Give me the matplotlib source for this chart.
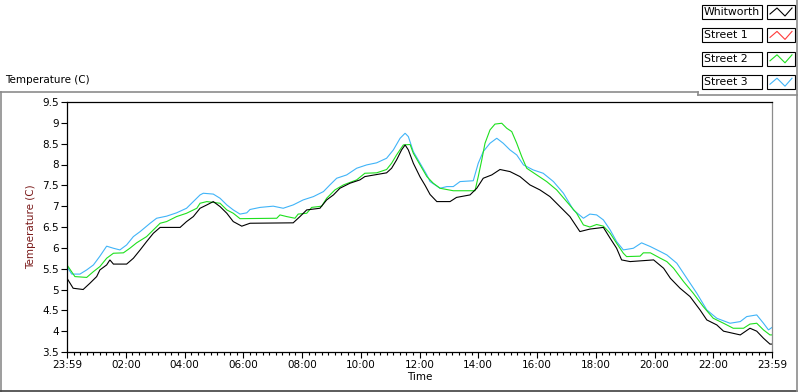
import matplotlib
matplotlib.use("Agg")
import matplotlib.pyplot as plt
from matplotlib.lines import Line2D
from matplotlib.patches import Rectangle
from matplotlib.ticker import FixedLocator, FormatStrFormatter

# hours since the start (23:59 of the previous day)
whit_t = [0, 0.21, 0.55, 0.78, 1.01, 1.12, 1.35, 1.46, 1.58, 2.03, 2.26, 2.49, 2.71, 2.94, 3.17,
          3.85, 4.07, 4.30, 4.53, 4.76, 4.98, 5.21, 5.44, 5.66, 5.95, 6.23, 7.70, 7.93, 8.16, 8.61,
          8.84, 9.07, 9.29, 9.63, 9.97, 10.14, 10.88, 11.05, 11.22, 11.39, 11.51, 11.62, 11.79, 12.02,
          12.19, 12.36, 12.59, 13.04, 13.26, 13.72, 13.95, 14.17, 14.46, 14.74, 15.08, 15.42, 15.76,
          16.10, 16.44, 16.78, 17.12, 17.46, 17.80, 18.26, 18.49, 18.71, 18.88, 19.17, 19.97, 20.31,
          20.54, 20.87, 21.21, 21.55, 21.78, 22.12, 22.35, 22.92, 23.25, 23.48, 23.71, 23.93, 24.0]
whit_temp = [5.27, 5.03, 5.00, 5.15, 5.31, 5.47, 5.59, 5.71, 5.61, 5.61, 5.75, 5.95, 6.15, 6.35, 6.49,
             6.49, 6.63, 6.75, 6.95, 7.03, 7.11, 6.99, 6.83, 6.63, 6.52, 6.59, 6.60, 6.75, 6.91, 6.95,
             7.15, 7.27, 7.43, 7.55, 7.63, 7.71, 7.80, 7.91, 8.11, 8.35, 8.47, 8.35, 8.03, 7.70,
             7.50, 7.28, 7.11, 7.11, 7.21, 7.27, 7.43, 7.67, 7.75, 7.88, 7.83, 7.71, 7.51,
             7.39, 7.23, 6.99, 6.75, 6.39, 6.45, 6.49, 6.23, 5.99, 5.71, 5.67, 5.71, 5.51,
             5.27, 5.03, 4.83, 4.51, 4.27, 4.15, 4.00, 3.91, 4.07, 4.00, 3.83, 3.69, 3.69]

street1_t = []
street1_temp = []

street2_t = [0, 0.27, 0.67, 0.90, 1.12, 1.35, 1.58, 1.92, 2.14, 2.37, 2.71, 2.94, 3.17, 3.39, 3.73,
             4.07, 4.42, 4.53, 4.76, 5.21, 5.44, 5.66, 5.89, 7.14, 7.25, 7.48, 7.76, 7.87, 8.16, 8.33,
             8.67, 8.84, 9.12, 9.41, 9.86, 10.14, 10.54, 10.88, 11.05, 11.22, 11.45, 11.68, 11.79,
             12.02, 12.25, 12.47, 12.70, 13.15, 13.89, 14.00, 14.12, 14.23, 14.40, 14.57, 14.80, 14.97,
             15.14, 15.31, 15.48, 15.65, 15.99, 16.33, 16.67, 17.01, 17.35, 17.58, 17.80, 18.03, 18.26,
             18.49, 18.71, 18.94, 19.05, 19.51, 19.62, 19.86, 20.20, 20.42, 20.65, 20.99, 21.32, 21.66,
             22.00, 22.35, 22.68, 23.03, 23.25, 23.48, 23.71, 23.93, 24.0]
street2_temp = [5.59, 5.31, 5.29, 5.43, 5.55, 5.75, 5.87, 5.88, 5.99, 6.12, 6.27, 6.43, 6.59, 6.63, 6.75,
                6.83, 6.95, 7.07, 7.11, 7.07, 6.91, 6.83, 6.70, 6.71, 6.79, 6.75, 6.71, 6.81, 6.83, 6.97,
                7.00, 7.19, 7.39, 7.51, 7.63, 7.79, 7.80, 7.88, 8.03, 8.23, 8.47, 8.48, 8.27,
                7.99, 7.71, 7.55, 7.43, 7.37, 7.37, 7.71, 8.11, 8.51, 8.83, 8.97, 8.99, 8.87,
                8.79, 8.51, 8.19, 7.91, 7.75, 7.59, 7.39, 7.11, 6.83, 6.55, 6.50, 6.56, 6.52,
                6.35, 6.11, 5.87, 5.79, 5.80, 5.88, 5.88, 5.75, 5.67, 5.51, 5.19, 4.91, 4.59,
                4.31, 4.19, 4.07, 4.07, 4.17, 4.19, 4.03, 3.91, 3.91]

street3_t = [0, 0.16, 0.44, 0.67, 0.90, 1.12, 1.35, 1.58, 1.80, 2.03, 2.26, 2.49, 2.83, 3.05, 3.39,
             3.73, 4.07, 4.30, 4.53, 4.64, 4.98, 5.21, 5.44, 5.66, 5.89, 6.12, 6.23, 6.57, 7.02, 7.36,
             7.70, 8.04, 8.39, 8.73, 8.95, 9.18, 9.52, 9.86, 10.20, 10.54, 10.88, 11.11, 11.34, 11.51,
             11.62, 11.79, 12.02, 12.25, 12.36, 12.70, 12.93, 13.15, 13.38, 13.83, 14.00, 14.17, 14.40,
             14.63, 14.85, 15.08, 15.31, 15.54, 15.87, 16.21, 16.56, 16.90, 17.24, 17.58, 17.80, 18.03,
             18.26, 18.49, 18.71, 18.94, 19.28, 19.56, 19.86, 20.20, 20.42, 20.76, 21.10, 21.44, 21.78,
             22.12, 22.57, 22.92, 23.14, 23.48, 23.71, 23.88, 24.0]
street3_temp = [5.55, 5.37, 5.37, 5.47, 5.59, 5.80, 6.04, 5.99, 5.95, 6.07, 6.27, 6.39, 6.59, 6.71, 6.76,
                6.84, 6.95, 7.11, 7.27, 7.31, 7.29, 7.19, 7.03, 6.91, 6.81, 6.84, 6.92, 6.97, 7.00, 6.95,
                7.03, 7.15, 7.23, 7.35, 7.51, 7.67, 7.75, 7.91, 7.99, 8.04, 8.15, 8.35, 8.63, 8.75,
                8.67, 8.31, 8.03, 7.75, 7.59, 7.43, 7.47, 7.47, 7.59, 7.61, 8.03, 8.31, 8.51,
                8.63, 8.51, 8.35, 8.23, 7.99, 7.87, 7.79, 7.59, 7.31, 6.91, 6.71, 6.81, 6.79,
                6.67, 6.43, 6.15, 5.95, 5.99, 6.12, 6.03, 5.91, 5.83, 5.63, 5.27, 4.91, 4.51,
                4.31, 4.19, 4.23, 4.35, 4.39, 4.19, 4.03, 4.09]

names = ["Whitworth", "Street 1", "Street 2", "Street 3"]
colors = ["#000000", "#ff3b3b", "#1ee01e", "#40b4f8"]
series = [(whit_t, whit_temp), (street1_t, street1_temp), (street2_t, street2_temp), (street3_t, street3_temp)]

x_ticks = list(range(0, 25, 2))
x_labels = ["23:59", "02:00", "04:00", "06:00", "08:00", "10:00", "12:00",
            "14:00", "16:00", "18:00", "20:00", "22:00", "23:59"]
y_ticks = [3.5, 4, 4.5, 5, 5.5, 6, 6.5, 7, 7.5, 8, 8.5, 9, 9.5]

W, H = 800, 392
plt.rcParams['font.family'] = ['DejaVu Sans']
fig = plt.figure(figsize=(W / 100, H / 100), dpi=100)
fig.patch.set_facecolor("white")


def fx(px):
    return px / W


def fy(py):
    return 1 - py / H


ax = fig.add_axes([fx(67), fy(352), fx(772) - fx(67), fy(102) - fy(352)])
# draw Street 3 first so black and green sit on top
for i in [3, 2, 1, 0]:
    t, v = series[i]
    ax.plot(t, v, color=colors[i], lw=0.8, solid_joinstyle="miter")

ax.set_xlim(0, 24)
ax.set_ylim(3.5, 9.5)
ax.set_xticks(x_ticks)
ax.set_xticklabels(x_labels)
ax.xaxis.set_minor_locator(FixedLocator([k * 2 / 9 for k in range(0, 109)]))
ax.set_yticks(y_ticks)
ax.yaxis.set_major_formatter(FormatStrFormatter('%g'))
ax.tick_params(axis="both", which="major", direction="out", length=4, width=0.8,
               labelsize=7.5, colors="black", pad=2)
ax.tick_params(axis="x", which="minor", direction="out", length=2.5, width=0.8)
ax.tick_params(axis="y", which="minor", left=False)

for side in ["left", "bottom", "top"]:
    ax.spines[side].set_color("black")
    ax.spines[side].set_linewidth(0.9)
ax.spines["right"].set_color("#8c8c8c")
ax.spines["right"].set_linewidth(0.9)

ax.set_xlabel("Time", fontsize=7.5, labelpad=1)
ax.set_ylabel("Temperature (C)", fontsize=7.5, color="#7a1a1a", labelpad=4)

# caption above plot
fig.text(fx(5), fy(80), "Temperature (C)", fontsize=7.5, va="center", ha="left")

# outer panel frame
frame_col = "#8c8c8c"
fig.add_artist(Line2D([fx(1), fx(1)], [fy(92), fy(392)], color=frame_col, lw=1.2))
fig.add_artist(Line2D([fx(0), fx(698)], [fy(92), fy(92)], color=frame_col, lw=1.2))
fig.add_artist(Line2D([fx(0), fx(797)], [fy(391), fy(391)], color="#404040", lw=1.2))
fig.add_artist(Line2D([fx(698), fx(698)], [fy(92), fy(95)], color=frame_col, lw=1.2))
fig.add_artist(Line2D([fx(698), fx(797)], [fy(95), fy(95)], color=frame_col, lw=1.2))
fig.add_artist(Line2D([fx(797), fx(797)], [fy(0), fy(392)], color=frame_col, lw=1.2))

# legend
for i, name in enumerate(names):
    top = 5 + i * 23.4
    bot = top + 14
    fig.add_artist(Rectangle((fx(702), fy(bot)), fx(762) - fx(702), fy(top) - fy(bot),
                             transform=fig.transFigure, facecolor="white", edgecolor="black", lw=0.8))
    fig.text(fx(704), fy((top + bot) / 2), name, fontsize=7.8, va="center", ha="left")
    fig.add_artist(Rectangle((fx(767), fy(bot)), fx(795) - fx(767), fy(top) - fy(bot),
                             transform=fig.transFigure, facecolor="white", edgecolor="black", lw=0.8))
    zx = [770, 777, 785, 792]
    zy = [bot - 5, top + 3, bot - 3, top + 3]
    fig.add_artist(Line2D([fx(p) for p in zx], [fy(p) for p in zy], color=colors[i], lw=0.8))

fig.savefig("out.png", dpi=100, facecolor="white")
